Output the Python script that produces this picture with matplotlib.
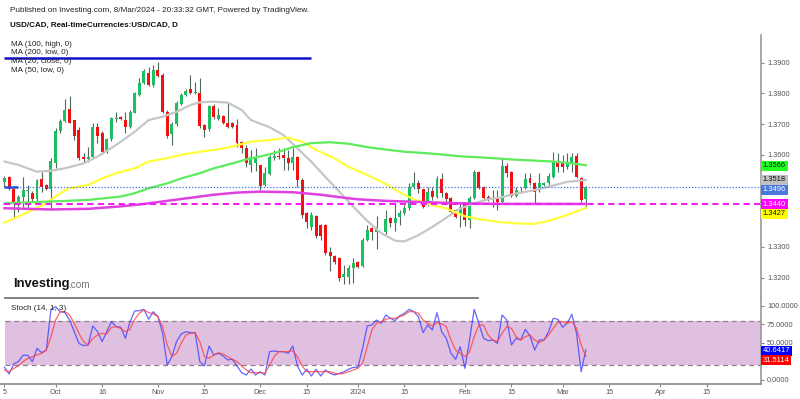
import numpy as np
import matplotlib
matplotlib.use("Agg")
import matplotlib.pyplot as plt
import matplotlib.transforms as mtransforms
from matplotlib.lines import Line2D

plt.rcParams['font.family'] = ['Liberation Sans', 'DejaVu Sans']

# USD/CAD daily candles, one per trading day (index 0 = 15 Sep 2023, last = 8 Mar 2024)
opens = [1.3510, 1.3527, 1.3488, 1.3447, 1.3464, 1.3482, 1.3477, 1.3455, 1.3520, 1.3502,
         1.3490, 1.3572, 1.3678, 1.3710, 1.3748, 1.3712, 1.3681, 1.3592, 1.3586, 1.3594,
         1.3692, 1.3672, 1.3610, 1.3651, 1.3716, 1.3722, 1.3713, 1.3692, 1.3737, 1.3795,
         1.3833, 1.3867, 1.3827, 1.3876, 1.3860, 1.3740, 1.3668, 1.3699, 1.3767, 1.3795,
         1.3813, 1.3802, 1.3802, 1.3696, 1.3683, 1.3759, 1.3716, 1.3726, 1.3705, 1.3703,
         1.3696, 1.3643, 1.3621, 1.3566, 1.3574, 1.3566, 1.3502, 1.3538, 1.3588, 1.3596,
         1.3599, 1.3588, 1.3574, 1.3592, 1.3518, 1.3412, 1.3366, 1.3401, 1.3371, 1.3371,
         1.3285, 1.3271, 1.3263, 1.3203, 1.3203, 1.3230, 1.3250, 1.3239, 1.3323, 1.3361,
         1.3350, 1.3347, 1.3347, 1.3394, 1.3379, 1.3396, 1.3409, 1.3426, 1.3496, 1.3509,
         1.3487, 1.3440, 1.3483, 1.3464, 1.3520, 1.3477, 1.3458, 1.3420, 1.3404, 1.3439,
         1.3388, 1.3460, 1.3543, 1.3494, 1.3464, 1.3456, 1.3464, 1.3447, 1.3565, 1.3545,
         1.3466, 1.3487, 1.3491, 1.3525, 1.3507, 1.3485, 1.3502, 1.3507, 1.3529, 1.3580,
         1.3578, 1.3559, 1.3572, 1.3596, 1.3523, 1.3455]
highs = [1.3530, 1.3530, 1.3490, 1.3470, 1.3527, 1.3502, 1.3482, 1.3522, 1.3544, 1.3506,
         1.3589, 1.3686, 1.3715, 1.3781, 1.3791, 1.3714, 1.3690, 1.3605, 1.3627, 1.3703,
         1.3703, 1.3676, 1.3656, 1.3724, 1.3740, 1.3726, 1.3740, 1.3745, 1.3806, 1.3849,
         1.3878, 1.3887, 1.3892, 1.3903, 1.3865, 1.3745, 1.3708, 1.3775, 1.3800, 1.3813,
         1.3860, 1.3838, 1.3849, 1.3699, 1.3763, 1.3765, 1.3751, 1.3730, 1.3770, 1.3706,
         1.3716, 1.3646, 1.3632, 1.3616, 1.3621, 1.3568, 1.3561, 1.3599, 1.3616, 1.3621,
         1.3621, 1.3616, 1.3621, 1.3596, 1.3523, 1.3415, 1.3415, 1.3404, 1.3375, 1.3375,
         1.3301, 1.3275, 1.3266, 1.3241, 1.3241, 1.3263, 1.3254, 1.3328, 1.3371, 1.3366,
         1.3401, 1.3350, 1.3420, 1.3398, 1.3442, 1.3420, 1.3437, 1.3507, 1.3545, 1.3518,
         1.3490, 1.3496, 1.3496, 1.3531, 1.3540, 1.3480, 1.3461, 1.3424, 1.3445, 1.3447,
         1.3466, 1.3550, 1.3548, 1.3498, 1.3469, 1.3485, 1.3485, 1.3588, 1.3572, 1.3548,
         1.3496, 1.3496, 1.3540, 1.3540, 1.3512, 1.3540, 1.3512, 1.3542, 1.3610, 1.3605,
         1.3599, 1.3605, 1.3605, 1.3605, 1.3527, 1.3498]
lows = [1.3496, 1.3485, 1.3399, 1.3415, 1.3431, 1.3426, 1.3450, 1.3450, 1.3480, 1.3484,
        1.3420, 1.3556, 1.3672, 1.3708, 1.3703, 1.3648, 1.3582, 1.3572, 1.3578, 1.3590,
        1.3640, 1.3604, 1.3605, 1.3646, 1.3708, 1.3712, 1.3670, 1.3688, 1.3735, 1.3791,
        1.3829, 1.3825, 1.3822, 1.3855, 1.3735, 1.3654, 1.3632, 1.3695, 1.3763, 1.3790,
        1.3797, 1.3798, 1.3686, 1.3659, 1.3679, 1.3718, 1.3713, 1.3699, 1.3686, 1.3686,
        1.3625, 1.3605, 1.3561, 1.3545, 1.3548, 1.3485, 1.3498, 1.3534, 1.3584, 1.3585,
        1.3551, 1.3551, 1.3551, 1.3496, 1.3393, 1.3361, 1.3355, 1.3330, 1.3323, 1.3275,
        1.3220, 1.3245, 1.3190, 1.3179, 1.3179, 1.3181, 1.3232, 1.3236, 1.3320, 1.3323,
        1.3292, 1.3345, 1.3343, 1.3366, 1.3353, 1.3371, 1.3404, 1.3420, 1.3488, 1.3474,
        1.3426, 1.3432, 1.3453, 1.3458, 1.3464, 1.3442, 1.3408, 1.3393, 1.3366, 1.3368,
        1.3360, 1.3455, 1.3487, 1.3453, 1.3451, 1.3431, 1.3420, 1.3442, 1.3529, 1.3461,
        1.3461, 1.3474, 1.3488, 1.3503, 1.3442, 1.3480, 1.3498, 1.3503, 1.3525, 1.3545,
        1.3545, 1.3555, 1.3545, 1.3525, 1.3447, 1.3426]
closes = [1.3523, 1.3488, 1.3447, 1.3464, 1.3485, 1.3485, 1.3455, 1.3518, 1.3496, 1.3488,
          1.3580, 1.3679, 1.3710, 1.3746, 1.3705, 1.3661, 1.3589, 1.3585, 1.3594, 1.3692,
          1.3661, 1.3610, 1.3651, 1.3719, 1.3720, 1.3716, 1.3692, 1.3740, 1.3800, 1.3835,
          1.3873, 1.3827, 1.3876, 1.3858, 1.3740, 1.3661, 1.3699, 1.3770, 1.3795, 1.3809,
          1.3800, 1.3806, 1.3694, 1.3681, 1.3759, 1.3722, 1.3729, 1.3703, 1.3690, 1.3690,
          1.3638, 1.3621, 1.3574, 1.3594, 1.3592, 1.3498, 1.3540, 1.3592, 1.3596, 1.3594,
          1.3588, 1.3574, 1.3592, 1.3518, 1.3404, 1.3382, 1.3404, 1.3334, 1.3334, 1.3279,
          1.3272, 1.3250, 1.3198, 1.3212, 1.3230, 1.3247, 1.3236, 1.3323, 1.3355, 1.3350,
          1.3366, 1.3347, 1.3390, 1.3379, 1.3393, 1.3409, 1.3426, 1.3496, 1.3507, 1.3487,
          1.3431, 1.3480, 1.3461, 1.3520, 1.3474, 1.3455, 1.3415, 1.3398, 1.3431, 1.3388,
          1.3460, 1.3543, 1.3492, 1.3460, 1.3455, 1.3460, 1.3447, 1.3565, 1.3542, 1.3466,
          1.3485, 1.3487, 1.3520, 1.3507, 1.3480, 1.3507, 1.3509, 1.3531, 1.3578, 1.3561,
          1.3559, 1.3578, 1.3594, 1.3529, 1.3453, 1.3496]

# moving averages at sample candles
ma20_idx = [0, 3, 7, 10, 13, 17, 20, 24, 28, 31, 34, 37, 40, 42, 45, 48, 51, 53, 57, 60,
            63, 66, 69, 72, 75, 78, 81, 84, 86, 89, 92, 95, 98, 101, 104, 107, 110, 114, 117, 121, 125]
ma20_val = [1.3578, 1.3567, 1.3545, 1.3548, 1.3556, 1.3572, 1.3594, 1.3632, 1.3675, 1.3713,
            1.3724, 1.3740, 1.3762, 1.3771, 1.3773, 1.3770, 1.3746, 1.3713, 1.3690, 1.3664,
            1.3621, 1.3577, 1.3528, 1.3480, 1.3431, 1.3385, 1.3345, 1.3320, 1.3318, 1.3338,
            1.3365, 1.3395, 1.3425, 1.3442, 1.3455, 1.3462, 1.3474, 1.3485, 1.3496, 1.3512, 1.3518]
ma50_idx = [0, 3, 6, 9, 12, 14, 18, 21, 24, 28, 31, 35, 38, 42, 46, 49, 53, 57, 61, 64,
            67, 71, 74, 78, 82, 85, 88, 91, 95, 99, 103, 107, 111, 114, 117, 121, 125]
ma50_val = [1.3379, 1.3399, 1.3420, 1.3442, 1.3475, 1.3491, 1.3502, 1.3523, 1.3540, 1.3556,
            1.3578, 1.3589, 1.3600, 1.3610, 1.3618, 1.3627, 1.3643, 1.3648, 1.3656, 1.3643,
            1.3616, 1.3588, 1.3561, 1.3534, 1.3505, 1.3478, 1.3455, 1.3440, 1.3425, 1.3400,
            1.3388, 1.3380, 1.3376, 1.3375, 1.3385, 1.3404, 1.3427]
ma100_idx = [0, 10, 18, 25, 28, 31, 35, 38, 42, 45, 49, 52, 55, 58, 62, 66, 70, 74, 78, 82,
             86, 90, 94, 98, 102, 106, 110, 114, 118, 121, 125]
ma100_val = [1.3442, 1.3448, 1.3453, 1.3464, 1.3475, 1.3491, 1.3507, 1.3523, 1.3540, 1.3556,
             1.3572, 1.3585, 1.3595, 1.3605, 1.3625, 1.3638, 1.3641, 1.3636, 1.3625, 1.3617,
             1.3610, 1.3606, 1.3601, 1.3595, 1.3592, 1.3588, 1.3584, 1.3581, 1.3578, 1.3574, 1.3566]
ma200_idx = [0, 10, 18, 25, 30, 35, 40, 45, 50, 55, 62, 68, 72, 76, 82, 90, 98, 106, 114, 125]
ma200_val = [1.3426, 1.3422, 1.3424, 1.3432, 1.3440, 1.3450, 1.3460, 1.3470, 1.3477, 1.3480,
             1.3478, 1.3470, 1.3462, 1.3455, 1.3450, 1.3446, 1.3442, 1.3440, 1.3440, 1.3440]

# Stochastic (14, 1, 3): %K and %D per candle
stoch_k = [17.1, 8.1, 21.6, 24.7, 33.3, 33.3, 24.7, 42.7, 36.8, 40.4,
           95.2, 98.8, 92.1, 90.8, 80.9, 65.1, 49.4, 46.3, 47.2, 72.8,
           65.1, 51.7, 65.1, 78.6, 71.9, 71.0, 56.2, 78.6, 93.0, 93.4,
           95.2, 81.8, 92.1, 85.4, 62.9, 20.2, 31.5, 51.7, 62.0, 65.1,
           63.8, 63.8, 24.7, 18.9, 45.8, 33.7, 36.0, 32.4, 27.0, 27.9,
           18.9, 9.9, 6.7, 14.8, 6.7, 11.2, 6.7, 38.2, 39.1, 38.2,
           38.2, 36.0, 45.8, 18.9, 6.7, 14.4, 5.4, 14.4, 5.4, 13.5,
           9.0, 6.7, 9.0, 11.2, 14.4, 17.1, 17.1, 42.7, 72.8, 74.1,
           80.9, 76.4, 87.6, 83.1, 80.0, 86.5, 89.9, 95.2, 92.1, 85.4,
           63.8, 74.1, 67.4, 90.8, 65.1, 56.2, 36.0, 27.9, 44.9, 15.7,
           53.9, 95.2, 76.4, 56.2, 53.0, 53.9, 49.4, 87.6, 80.9, 47.2,
           56.2, 53.9, 68.3, 59.3, 40.4, 53.9, 53.9, 65.1, 83.1, 81.8,
           71.0, 76.4, 88.5, 62.9, 11.2, 40.6417]
stoch_d = [13.5, 11.2, 15.7, 18.9, 24.7, 29.2, 31.5, 33.7, 36.0, 40.4,
           58.4, 80.9, 92.1, 92.1, 87.6, 76.4, 62.9, 51.7, 47.2, 56.2,
           60.6, 62.9, 62.0, 71.0, 71.9, 69.6, 65.1, 68.3, 81.8, 89.9,
           94.3, 90.8, 89.0, 85.4, 71.9, 47.2, 31.5, 36.0, 49.4, 60.6,
           62.9, 63.8, 51.7, 31.5, 29.2, 33.7, 36.8, 35.0, 31.5, 27.9,
           24.7, 18.9, 13.5, 9.9, 9.9, 9.9, 9.0, 20.2, 31.5, 38.2,
           38.2, 38.2, 39.5, 31.5, 18.9, 11.2, 11.2, 11.2, 11.2, 11.2,
           11.2, 9.0, 8.1, 9.0, 11.2, 13.5, 15.7, 22.5, 44.9, 67.4,
           76.4, 78.6, 81.8, 83.1, 83.1, 85.5, 87.6, 92.1, 92.1, 89.9,
           80.9, 76.4, 72.8, 77.3, 75.5, 71.9, 53.9, 40.4, 36.0, 31.5,
           38.2, 58.4, 74.1, 74.1, 60.6, 53.9, 51.7, 62.9, 71.9, 69.6,
           58.4, 53.9, 58.4, 60.6, 53.9, 50.3, 53.9, 60.6, 69.6, 77.7,
           78.6, 76.4, 78.6, 69.6, 47.2, 31.5114]

tick_pos = [0, 11, 21, 33, 43, 55, 65, 76, 86, 99, 109, 120, 130, 141, 151]
tick_lbl = ['5', 'Oct', '16', 'Nov', '15', 'Dec', '15', '2024', '15', 'Feb', '15', 'Mar', '15', 'Apr', '15']
price_ticks = [1.32, 1.33, 1.36, 1.37, 1.38, 1.39]
stoch_ticks = [0, 50, 75, 100]

W, H = 800, 399
def fy(py):
    return 1 - py / H

fig = plt.figure(figsize=(8, 3.99), dpi=100)
fig.patch.set_facecolor('white')
right = 760.7 / W
ax = fig.add_axes([0, fy(298), right, fy(35) - fy(298)])
ax2 = fig.add_axes([0, fy(384.3), right, fy(298) - fy(384.3)])
xlim = (-0.957, 162.6)
for a in (ax, ax2):
    a.set_xlim(*xlim)
    a.set_facecolor('none')
    for s in ('top', 'left', 'bottom', 'right'):
        a.spines[s].set_visible(False)
    a.spines['right'].set_visible(True)
    a.spines['right'].set_color('#9a9a9a')
    a.spines['right'].set_linewidth(1.2)
ax2.spines['bottom'].set_visible(True)
ax2.spines['bottom'].set_color('#8a8a8a')
ax2.spines['bottom'].set_linewidth(1.2)

ax.set_ylim(1.31336, 1.39902)
ax2.set_ylim(-5.8, 110.5)

# candles
o = np.array(opens); h = np.array(highs); l = np.array(lows); c = np.array(closes)
idx = np.arange(len(o))
cols = np.where(c > o, '#1cbf62', np.where(c < o, '#f21010', '#333333'))
ax.vlines(idx, l, h, colors='#4f6a59', lw=0.8, zorder=2)
ax.bar(idx, np.maximum(np.abs(c - o), 0.00007), bottom=np.minimum(o, c), width=0.64,
       color=cols, linewidth=0, zorder=2.5)

# moving averages
ax.plot(ma20_idx, ma20_val, color='#c6c6c6', lw=1.6, zorder=3)
ax.plot(ma50_idx, ma50_val, color='#ffff3a', lw=1.6, zorder=3)
ax.plot(ma100_idx, ma100_val, color='#5cec5c', lw=1.6, zorder=3)
ax.plot(ma200_idx, ma200_val, color='#e040e0', lw=1.8, zorder=3)

# horizontal lines
ax.hlines(closes[-1], 0, xlim[1], color='#3d6fe0', lw=0.9, linestyles=(0, (1, 1.5)), zorder=3.5)
ax.hlines(ma200_val[-1], 0, xlim[1], color='#f020f0', lw=1.5, linestyles=(0, (3, 2)), zorder=3.5)
ax.hlines(1.3915, 0, 66, color='#1010d0', lw=1.8, zorder=4)
ax.hlines(closes[-1], 0, 3, color='#2a4fd6', lw=1.8, zorder=4)

ax.yaxis.tick_right()
ax.set_yticks(price_ticks)
ax.set_yticklabels(['%.4f' % t for t in price_ticks])
ax.tick_params(axis='y', length=2, width=0.8, color='#888888', labelsize=5.3,
               labelcolor='#555555', pad=2.5)
ax.set_xticks([])

# stochastic panel
band_x0 = 5 / 760.7
ax2.axhspan(20, 80, xmin=band_x0, facecolor='#e0c0e0', edgecolor='none', zorder=0)
ax2.axhline(80, xmin=band_x0, color='#8e7e8e', lw=0.9, ls=(0, (4, 3)), zorder=1)
ax2.axhline(20, xmin=band_x0, color='#8e7e8e', lw=0.9, ls=(0, (4, 3)), zorder=1)
ax2.plot(idx, stoch_k, color='#4040ff', lw=0.9, alpha=0.8, zorder=3)
ax2.plot(idx, stoch_d, color='#ff4040', lw=0.9, alpha=0.8, zorder=3)
ax2.yaxis.tick_right()
ax2.set_yticks(stoch_ticks)
ax2.set_yticklabels(['%.4f' % t for t in stoch_ticks])
ax2.tick_params(axis='y', length=2, width=0.8, color='#888888', labelsize=5.3,
                labelcolor='#555555', pad=2.5)
ax2.set_xticks(tick_pos)
ax2.set_xticklabels(tick_lbl)
ax2.tick_params(axis='x', length=2, width=0.8, color='#888888', labelsize=5.3,
                labelcolor='#555555', pad=1.5)

# value badges on the right scale
def badge(a, y, txt, fc, tc):
    tr = mtransforms.blended_transform_factory(a.transAxes, a.transData)
    tr = mtransforms.offset_copy(tr, fig=fig, x=2.2, y=0, units='dots')
    a.text(1.0, y, txt, transform=tr, ha='left', va='center', fontsize=5.4, color=tc,
           zorder=6, clip_on=False,
           bbox=dict(boxstyle='square,pad=0.22', fc=fc, ec='none'))

badge(ax, 1.35645, '%.4f' % ma100_val[-1], '#22ff22', '#111111')
badge(ax, 1.3518, '%.4f' % ma20_val[-1], '#c0c0c0', '#111111')
badge(ax, 1.3486, '%.4f' % closes[-1], '#4a78dc', 'white')
badge(ax, 1.34397, '%.4f' % ma200_val[-1], '#ff00ff', 'white')
badge(ax, 1.3408, '%.4f' % ma50_val[-1], '#ffff00', '#111111')
badge(ax2, 39.5, '%.4f' % stoch_k[-1], '#0000ff', 'white')
badge(ax2, 26.5, '%.4f' % stoch_d[-1], '#ff0000', 'white')

# separator above stochastic panel
fig.add_artist(Line2D([5 / W, 478 / W], [fy(298.3)] * 2, color='#777777', lw=1.3))

# header texts
fig.text(10 / W, fy(10.5), 'Published on Investing.com, 8/Mar/2024 - 20:33:32 GMT, Powered by TradingView.',
         fontsize=5.9, va='center', color='#222222')
fig.text(10 / W, fy(25), 'USD/CAD, Real-timeCurrencies:USD/CAD, D', fontsize=5.8,
         fontweight='bold', va='center', color='#111111')
for i, t in enumerate(['MA (100, high, 0)', 'MA (200, low, 0)', 'MA (20, close, 0)', 'MA (50, low, 0)']):
    fig.text(11 / W, fy(44.3 + 8.7 * i), t, fontsize=5.8, va='center', color='#222222')

fig.text(12.7 / W, fy(284), 'Investing', fontsize=9.3, fontweight='bold', va='center', color='#111111')
fig.text(68.5 / W, fy(285), '.com', fontsize=7.2, va='center', color='#777777')
fig.text(11 / W, fy(308), 'Stoch (14, 1, 3)', fontsize=5.8, va='center', color='#222222')

fig.savefig('out.png', dpi=100, facecolor='white')
